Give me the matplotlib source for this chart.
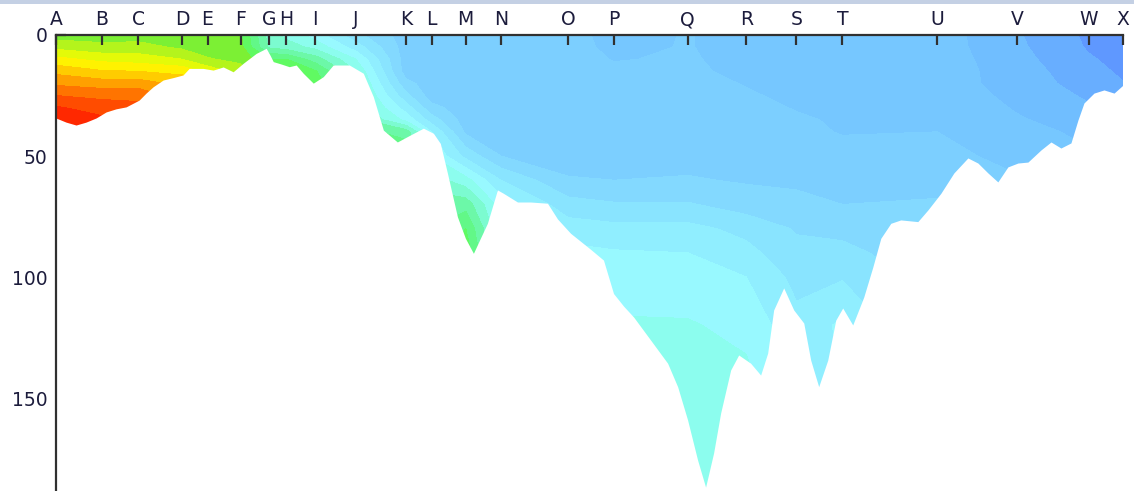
import numpy as np
import matplotlib
matplotlib.use("Agg")
from matplotlib import pyplot as plt
from matplotlib.patches import Rectangle

# Station names and along-section distance (km)
stations = ["A", "B", "C", "D", "E", "F", "G", "H", "I", "J", "K", "L",
            "M", "N", "O", "P", "Q", "R", "S", "T", "U", "V", "W", "X"]
station_km = [0.0, 4.3, 7.7, 11.8, 14.2, 17.3, 20.0, 21.6, 24.3, 28.1, 32.8, 35.2,
              38.4, 41.7, 48.0, 52.3, 59.2, 64.7, 69.4, 73.7, 82.6, 90.1, 96.8, 100.0]

# Depth levels of each station profile (m)
depths = [0, 5, 10, 15, 20, 25, 30, 35, 40, 50, 60, 70, 80, 90, 100, 120, 140, 160, 190]

# Profile class values, one list per station (top to bottom)
prof_A = [14.0, 15.2, 16.8, 18.2, 19.3, 20.5, 21.6, 22.3, 22.5, 22.5, 22.5, 22.5, 22.5, 22.5, 22.5, 22.5, 22.5, 22.5, 22.5]
prof_B = [14.0, 14.8, 16.2, 17.6, 19.0, 20.2, 21.1, 21.7, 21.8, 21.8, 21.8, 21.8, 21.8, 21.8, 21.8, 21.8, 21.8, 21.8, 21.8]
prof_C = [14.0, 14.9, 16.0, 17.5, 19.0, 20.2, 20.8, 21.0, 21.0, 21.0, 21.0, 21.0, 21.0, 21.0, 21.0, 21.0, 21.0, 21.0, 21.0]
prof_D = [13.8, 14.3, 15.5, 17.2, 18.2, 19.0, 19.0, 19.0, 19.0, 19.0, 19.0, 19.0, 19.0, 19.0, 19.0, 19.0, 19.0, 19.0, 19.0]
prof_E = [13.8, 14.0, 14.6, 16.2, 17.0, 17.0, 17.0, 17.0, 17.0, 17.0, 17.0, 17.0, 17.0, 17.0, 17.0, 17.0, 17.0, 17.0, 17.0]
prof_F = [13.6, 13.8, 14.2, 15.0, 15.5, 15.5, 15.5, 15.5, 15.5, 15.5, 15.5, 15.5, 15.5, 15.5, 15.5, 15.5, 15.5, 15.5, 15.5]
prof_G = [10.0, 10.3, 12.5, 13.0, 13.0, 13.0, 13.0, 13.0, 13.0, 13.0, 13.0, 13.0, 13.0, 13.0, 13.0, 13.0, 13.0, 13.0, 13.0]
prof_H = [9.2, 10.0, 12.5, 13.2, 13.2, 13.2, 13.2, 13.2, 13.2, 13.2, 13.2, 13.2, 13.2, 13.2, 13.2, 13.2, 13.2, 13.2, 13.2]
prof_I = [8.0, 9.2, 11.0, 12.6, 13.2, 13.2, 13.2, 13.2, 13.2, 13.2, 13.2, 13.2, 13.2, 13.2, 13.2, 13.2, 13.2, 13.2, 13.2]
prof_J = [5.8, 7.0, 8.5, 9.5, 10.0, 10.3, 10.5, 11.0, 12.0, 12.5, 12.5, 12.5, 12.5, 12.5, 12.5, 12.5, 12.5, 12.5, 12.5]
prof_K = [4.0, 4.0, 4.0, 4.0, 4.8, 5.8, 7.0, 8.2, 11.0, 12.5, 12.5, 12.5, 12.5, 12.5, 12.5, 12.5, 12.5, 12.5, 12.5]
prof_L = [4.0, 4.0, 4.0, 4.0, 4.0, 4.0, 4.8, 6.0, 7.5, 8.5, 10.0, 11.0, 11.5, 11.5, 11.5, 11.5, 11.5, 11.5, 11.5]
prof_M = [4.0, 4.0, 4.0, 4.0, 4.0, 4.0, 4.0, 4.0, 4.3, 6.2, 8.9, 11.1, 12.5, 13.2, 13.2, 13.2, 13.2, 13.2, 13.2]
prof_N = [4.0, 4.0, 4.0, 4.0, 4.0, 4.0, 4.0, 4.0, 4.0, 4.5, 6.5, 8.0, 8.5, 8.6, 8.6, 8.6, 8.6, 8.6, 8.6]
prof_O = [3.8, 3.8, 3.9, 4.0, 4.0, 4.0, 4.0, 4.0, 4.0, 4.0, 4.6, 5.9, 7.0, 7.8, 8.2, 8.5, 8.5, 8.5, 8.5]
prof_P = [3.2, 3.3, 3.45, 3.7, 3.9, 4.0, 4.0, 4.0, 4.0, 4.1, 4.5, 5.6, 6.8, 7.6, 8.1, 8.6, 8.8, 8.8, 8.8]
prof_Q = [3.55, 3.55, 3.6, 3.65, 3.8, 3.9, 4.0, 4.0, 4.0, 4.1, 4.6, 5.6, 6.8, 7.5, 7.9, 8.6, 8.9, 9.1, 9.2]
prof_R = [3.1, 3.15, 3.2, 3.3, 3.45, 3.6, 3.75, 3.85, 3.95, 4.0, 4.4, 5.0, 6.2, 6.8, 7.5, 8.2, 8.7, 8.8, 8.8]
prof_S = [3.0, 3.05, 3.1, 3.15, 3.2, 3.3, 3.45, 3.6, 3.7, 3.9, 4.3, 4.8, 5.4, 5.8, 6.2, 6.8, 7.2, 7.3, 7.3]
prof_T = [3.0, 3.0, 3.05, 3.1, 3.1, 3.2, 3.3, 3.4, 3.45, 3.8, 4.1, 4.5, 5.3, 5.7, 6.4, 7.7, 7.5, 7.5, 7.5]
prof_U = [3.0, 3.0, 3.05, 3.1, 3.1, 3.2, 3.3, 3.4, 3.5, 3.8, 4.2, 4.6, 4.9, 5.0, 5.0, 5.0, 5.0, 5.0, 5.0]
prof_V = [1.6, 1.7, 1.85, 1.95, 2.0, 2.2, 2.4, 2.6, 2.8, 3.2, 3.6, 3.6, 3.6, 3.6, 3.6, 3.6, 3.6, 3.6, 3.6]
prof_W = [0.3, 0.4, 0.6, 0.9, 1.1, 1.35, 1.6, 2.0, 2.3, 2.6, 2.6, 2.6, 2.6, 2.6, 2.6, 2.6, 2.6, 2.6, 2.6]
prof_X = [0.1, 0.15, 0.2, 0.3, 0.55, 0.8, 0.9, 1.0, 1.0, 1.0, 1.0, 1.0, 1.0, 1.0, 1.0, 1.0, 1.0, 1.0, 1.0]

profiles = [prof_A, prof_B, prof_C, prof_D, prof_E, prof_F, prof_G, prof_H, prof_I, prof_J,
            prof_K, prof_L, prof_M, prof_N, prof_O, prof_P, prof_Q, prof_R, prof_S, prof_T,
            prof_U, prof_V, prof_W, prof_X]

# Bottom profile along the section
bottom_km = [0.0, 0.94, 1.88, 2.81, 3.75, 4.69, 5.63, 6.57, 7.79, 8.44, 9.10, 10.04, 10.98, 11.91,
             12.48, 13.79, 14.73, 15.67, 16.60, 17.54, 18.76, 19.70, 20.08, 20.36, 21.11, 21.86,
             22.51, 23.17, 24.11, 25.05, 25.98, 27.49, 28.80, 29.74, 30.68, 31.99, 33.21, 34.43,
             35.37, 36.02, 36.68, 37.62, 38.37, 39.12, 39.77, 40.43, 41.37, 41.93, 43.25, 44.47,
             46.06, 47.00, 48.22, 50.09, 51.31, 52.25, 53.19, 54.13, 55.72, 57.32, 58.26, 59.19,
             60.13, 60.88, 61.63, 62.29, 63.23, 63.98, 65.10, 66.04, 66.70, 67.26, 68.20, 69.14,
             70.08, 70.73, 71.48, 72.33, 73.08, 73.73, 74.67, 75.70, 76.55, 77.30, 78.24, 79.17,
             80.77, 81.71, 82.93, 84.15, 85.46, 86.40, 87.34, 88.27, 89.21, 90.15, 91.09, 92.31,
             93.25, 94.18, 95.12, 95.78, 96.34, 97.28, 98.22, 99.16, 100.0]
bottom_m = [34.3, 36.0, 37.2, 36.0, 34.3, 31.8, 30.5, 29.7, 26.9, 24.0, 21.4, 18.6, 17.6, 16.5,
            13.8, 13.8, 14.5, 13.2, 15.2, 11.7, 7.6, 5.5, 8.5, 11.0, 12.0, 13.1,
            12.4, 15.8, 19.9, 17.2, 12.4, 12.4, 15.8, 25.5, 39.3, 44.2, 41.3, 38.5,
            40.6, 44.8, 57.0, 75.1, 84.0, 90.2, 84.0, 77.8, 64.0, 65.4, 69.0, 69.0,
            69.5, 76.0, 81.9, 88.5, 93.0, 106.8, 112.0, 116.5, 126.0, 135.6, 145.3, 159.0,
            175.6, 186.8, 172.7, 156.2, 138.4, 132.2, 135.6, 140.5, 131.4, 113.6, 104.5, 113.6,
            119.0, 134.3, 145.3, 134.3, 117.8, 112.8, 119.8, 108.3, 95.9, 84.0, 77.8, 76.4,
            77.1, 72.3, 65.4, 57.0, 50.8, 52.9, 57.0, 60.7, 54.5, 52.9, 52.5, 47.5,
            44.2, 46.7, 44.6, 35.1, 28.1, 24.0, 22.7, 24.0, 20.7]

depth_ticks = [0, 50, 100, 150]

# class colours, low (blue) to high (red)
class_colors = ["#5f98ff", "#68aeff", "#70beff", "#76c7ff", "#7ccfff", "#83d9ff", "#89e4ff",
                "#90eeff", "#98f9ff", "#8cfdee", "#7cfbd0", "#6cf8a8", "#62f888", "#60fa62",
                "#7cf034", "#b4f41c", "#e4fa08", "#fff200", "#ffcc00", "#ffa000", "#ff7400",
                "#ff4c00", "#ff2800"]
levels = np.arange(-0.5, len(class_colors), 1.0)

text_col = "#1c1c3c"
spine_col = "#303030"

fig = plt.figure(figsize=(11.34, 4.91), dpi=100)
ax = fig.add_axes([56 / 1134, 0, (1123 - 56) / 1134, 456 / 491])

field = np.array(profiles).T
ax.contourf(station_km, depths, field, levels=levels, colors=class_colors, antialiased=False)

# blank out everything below the sea bed
ax.fill_between(bottom_km, bottom_m, 200, color="white", linewidth=0, zorder=3)

ax.set_xlim(0, 100)
ax.set_ylim(188.4, 0)

ax.xaxis.tick_top()
ax.set_xticks(station_km)
ax.set_xticklabels(stations)
ax.set_yticks(depth_ticks)
ax.set_yticklabels([str(d) for d in depth_ticks])

for s in ["right", "bottom"]:
    ax.spines[s].set_visible(False)
for s in ["top", "left"]:
    ax.spines[s].set_color(spine_col)
    ax.spines[s].set_linewidth(1.6)
    ax.spines[s].set_zorder(5)

ax.tick_params(axis="x", direction="in", length=7, width=1.6, color=spine_col,
               pad=4, labelsize=13.5, labelcolor=text_col)
ax.tick_params(axis="y", direction="in", length=7, width=1.6, color=spine_col,
               pad=6, labelsize=13.5, labelcolor=text_col)

# thin window strip along the top
fig.add_artist(Rectangle((0, 1 - 4 / 491), 1, 4 / 491, transform=fig.transFigure,
                         facecolor="#c4d0e4", edgecolor="none"))

fig.savefig("out.png", dpi=100)
